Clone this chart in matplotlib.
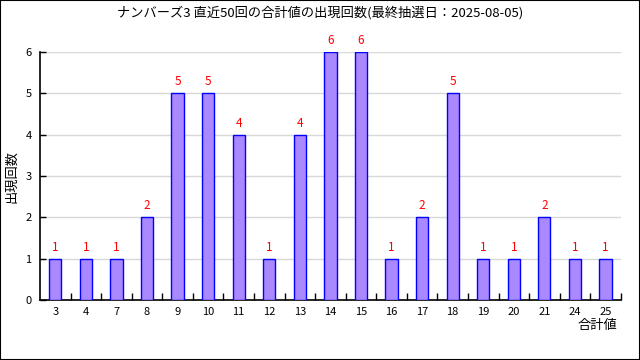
import matplotlib
matplotlib.use("Agg")
import matplotlib.pyplot as plt
from matplotlib.patches import Rectangle

plt.rcParams['font.family'] = ['Noto Sans CJK JP', 'DejaVu Sans']

categories = ["3", "4", "7", "8", "9", "10", "11", "12", "13", "14", "15",
              "16", "17", "18", "19", "20", "21", "24", "25"]
counts = [1, 1, 1, 2, 5, 5, 4, 1, 4, 6, 6, 1, 2, 5, 1, 1, 2, 1, 1]
title = "ナンバーズ3 直近50回の合計値の出現回数(最終抽選日：2025-08-05)"
xlabel = "合計値"
ylabel = "出現回数"

fig = plt.figure(figsize=(6.4, 3.6), dpi=100)
fig.patches.append(Rectangle((0, 0), 1, 1, transform=fig.transFigure,
                             fill=False, edgecolor='black', linewidth=1.5))
ax = fig.add_axes([0.0625, 0.1667, 0.9075, 0.6889])

x = list(range(len(categories)))
ax.bar(x, counts, width=0.4, color='#aa88ff', edgecolor='#0000ff', linewidth=1, zorder=3)
for xi, c in zip(x, counts):
    ax.text(xi, c + 0.12, str(c), color='red', ha='center', va='bottom', fontsize=8.5)

ax.set_xlim(-0.5, len(categories) - 0.5)
ax.set_ylim(0, 6)
ax.set_yticks(range(7))
ax.yaxis.grid(True, color='#d8d8d8', linewidth=1, zorder=0)
ax.set_axisbelow(True)

ax.set_xticks(x)
ax.set_xticklabels(categories, fontsize=8)
ax.tick_params(axis='x', which='major', length=0, pad=5)
ax.set_xticks([i + 0.5 for i in x], minor=True)
ax.tick_params(axis='x', which='minor', direction='in', length=5, width=1)
ax.tick_params(axis='y', direction='in', length=4, width=1, labelsize=8, pad=6)

for s in ['top', 'right']:
    ax.spines[s].set_visible(False)
for s in ['left', 'bottom']:
    ax.spines[s].set_linewidth(1.2)

fig.text(0.5, 0.966, title, ha='center', va='center', fontsize=9.5)
fig.text(0.964, 0.097, xlabel, ha='right', va='center', fontsize=9.5)
fig.text(0.019, 0.51, ylabel, ha='center', va='center', rotation=90, fontsize=9.5)

fig.savefig("out.png", dpi=100)
